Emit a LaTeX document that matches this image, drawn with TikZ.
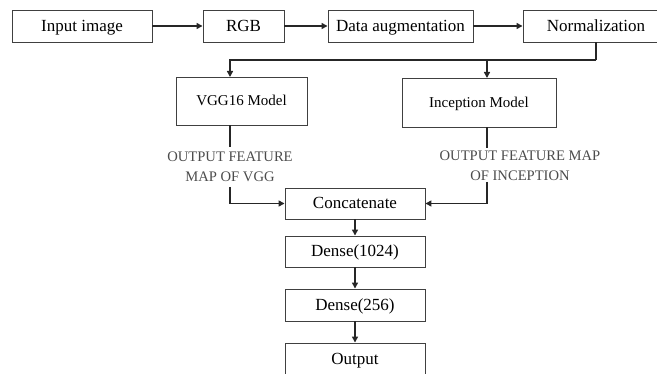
\documentclass[tikz,border=0pt]{standalone}
\usepackage{fontspec}
\setmainfont{Liberation Serif}
\usetikzlibrary{arrows.meta}

\tikzset{
	block/.style={draw=black!75, line width=0.9pt, minimum height=32pt, inner sep=0pt,
		text depth=0.25ex, font=\fontsize{17}{20}\selectfont},
	model/.style={block, font=\fontsize{15}{18}\selectfont},
	fmap/.style={text=black!70, align=center, inner sep=0pt,
		font=\fontsize{14.6}{20}\selectfont},
	link/.style={line width=1.4pt, black!85},
	flow/.style={link, -{Triangle[length=6pt,width=6pt]}}
}

\begin{document}
\begin{tikzpicture}[x=1pt, y=-1pt]
			\clip (0,0) rectangle (657,374);
			
			%Input row
			\node[block, minimum width=140pt] (Img) at (82,26) {Input image};
			\node[block, minimum width=81pt] (Rgb) at (243.5,26) {RGB};
			\node[block, minimum width=145pt] (Aug) at (400.5,26) {Data augmentation};
			\node[block, minimum width=146pt] (Norm) at (596,26) {Normalization};
			
			\draw[flow] (Img) -- (Rgb);
			\draw[flow] (Rgb) -- (Aug);
			\draw[flow] (Aug) -- (Norm);
			
			%Two models
			\node[model, minimum width=131pt, minimum height=48pt] (Vgg) at (241.5,101) {VGG16 Model};
			\node[model, minimum width=154pt, minimum height=49pt] (Inc) at (479,102.5) {Inception Model};
			
			\coordinate (Split) at (596,60);
			\draw[link] (Norm.south) -- (Split);
			\draw[flow] (Split) -| (230,77) coordinate (VggIn);
			\draw[flow] (Split) -| (487,78) coordinate (IncIn);
			
			%Feature maps
			\node[fmap] (VggMap) at (230,167) {OUTPUT FEATURE\\MAP OF VGG};
			\node[fmap] (IncMap) at (520,166) {OUTPUT FEATURE MAP\\OF INCEPTION};
			
			%Head
			\def\cx{355}
			\node[block, minimum width=140pt, minimum height=31pt] (Cat) at (\cx,203.5) {Concatenate};
			\node[block, minimum width=140pt, minimum height=31pt] (Fc1) at (\cx,251.5) {Dense(1024)};
			\node[block, minimum width=140pt] (Fc2) at (\cx,305) {Dense(256)};
			\node[block, minimum width=140pt] (Out) at (\cx,359) {Output};
			
			\draw[link] (Vgg.south -| 230,0) -- (230,147);
			\draw[flow] (230,187) |- (Cat.west);
			\draw[link] (Inc.south -| 487,0) -- (487,148);
			\draw[flow] (487,182) |- (Cat.east);
			
			\draw[flow] (Cat) -- (Fc1);
			\draw[flow] (Fc1) -- (Fc2);
			\draw[flow] (Fc2) -- (Out);
\end{tikzpicture}
\end{document}
